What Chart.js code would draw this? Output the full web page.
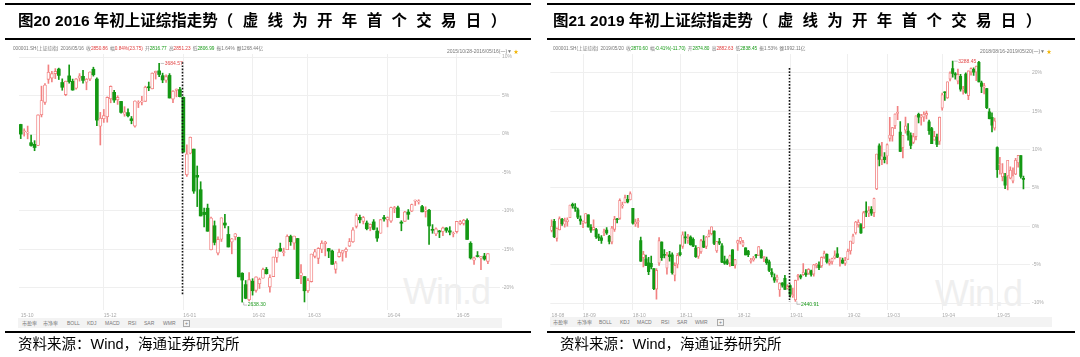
<!DOCTYPE html>
<html><head><meta charset="utf-8">
<script src="https://cdn.jsdelivr.net/npm/chart.js@4.4.0/dist/chart.umd.min.js"></script>
<style>
html,body{margin:0;padding:0;}
body{width:1080px;height:357px;background:#fff;position:relative;overflow:hidden;font-family:"Liberation Sans","Noto Sans CJK SC",sans-serif;}
.rule{position:absolute;background:#000;}
.title{position:absolute;font-weight:bold;font-size:15.5px;line-height:18px;white-space:nowrap;color:#000;font-family:"Liberation Sans","Noto Sans CJK SC",sans-serif;}
.title .p2{letter-spacing:9.3px;}
.src{position:absolute;font-size:14.5px;line-height:18px;white-space:nowrap;color:#000;font-family:"Noto Sans CJK SC",sans-serif;}
.src .w{font-family:"Liberation Sans",sans-serif;}
.hdr{position:absolute;font-size:4.7px;line-height:6px;white-space:nowrap;color:#777;display:flex;gap:2.2px;}
.hdr i{font-style:normal;}
.rng{position:absolute;font-size:5px;line-height:6px;white-space:nowrap;color:#777;}
.rng b{color:#f2b400;font-weight:normal;}
.r{color:#e03c3c}.g{color:#169a16}
.bar{position:absolute;height:10px;background:#f3f3f3;font-size:5px;line-height:10px;color:#777;white-space:nowrap;}
.bar span{position:absolute;top:0;}
.wm{position:absolute;font-size:36px;line-height:30px;color:#efefef;font-family:"Liberation Sans",sans-serif;letter-spacing:-1px;}
canvas{position:absolute;top:0;}
</style></head>
<body>
<div class="wm" style="left:403px;top:277px;">Win.d</div>
<div class="wm" style="left:935px;top:279px;">Win.d</div>
<div class="bar" style="left:18px;top:318px;width:484px;"><span style="left:4px">市盈率</span><span style="left:25px">市净率</span><span style="left:49px">BOLL</span><span style="left:69px">KDJ</span><span style="left:87px">MACD</span><span style="left:110px">RSI</span><span style="left:126px">SAR</span><span style="left:145px">WMR</span><span style="left:165px;top:2px;width:5px;height:5px;border:0.6px solid #aaa;line-height:5px;text-align:center;">+</span></div>
<div class="bar" style="left:550px;top:317px;width:502px;"><span style="left:3px">市盈率</span><span style="left:27px">市净率</span><span style="left:49px">BOLL</span><span style="left:70px">KDJ</span><span style="left:87px">MACD</span><span style="left:111px">RSI</span><span style="left:127px">SAR</span><span style="left:145px">WMR</span><span style="left:167px;top:2px;width:5px;height:5px;border:0.6px solid #aaa;line-height:5px;text-align:center;">+</span></div>
<canvas id="cL" width="540" height="357" style="left:0"></canvas>
<canvas id="cR" width="540" height="357" style="left:540px"></canvas>

<div class="rule" style="left:5px;top:3px;width:526px;height:2px;"></div>
<div class="rule" style="left:5px;top:38px;width:526px;height:1.5px;"></div>
<div class="rule" style="left:5px;top:331px;width:526px;height:2px;"></div>
<div class="rule" style="left:547px;top:3px;width:528px;height:2px;"></div>
<div class="rule" style="left:547px;top:38px;width:528px;height:1.5px;"></div>
<div class="rule" style="left:547px;top:331px;width:528px;height:2px;"></div>

<div class="title" style="left:18px;top:12px;">图20 2016 年初上证综指走势<span class="p2">（虚线为开年首个交易日）</span></div>
<div class="title" style="left:553px;top:12px;">图21 2019 年初上证综指走势<span class="p2">（虚线为开年首个交易日）</span></div>

<div class="hdr" style="left:13px;top:46px;"><span>000001.SH(上证综指)</span><span>2016/05/16</span><span>收<i class="r">2850.86</i></span><span>幅<i class="r">0.84%(23.75)</i></span><span>开<i class="g">2816.77</i></span><span>高<i class="r">2851.23</i></span><span>低<i class="g">2806.99</i></span><span>振1.64%</span><span>额1268.44亿</span></div>
<div class="hdr" style="left:553px;top:46px;"><span>000001.SH(上证综指)</span><span>2019/05/20</span><span>收<i class="g">2870.60</i></span><span>幅<i class="g">-0.41%(-11.70)</i></span><span>开<i class="g">2874.80</i></span><span>高<i class="r">2882.63</i></span><span>低<i class="g">2838.45</i></span><span>振1.53%</span><span>额1992.11亿</span></div>
<div class="rng" style="left:447px;top:48px;">2015/10/28-2016/05/16(一)▼ <b>★</b></div>
<div class="rng" style="left:980px;top:48px;">2018/08/16-2019/05/20(一)▼ <b>★</b></div>

<div class="src" style="left:18px;top:334px;">资料来源：<span class="w">Wind</span>，海通证券研究所</div>
<div class="src" style="left:560px;top:334px;">资料来源：<span class="w">Wind</span>，海通证券研究所</div>

<script>
// ================= 2016 chart data (SSE Composite, daily OHLC) =================
const L_months = ['15-10','15-11','15-12','16-01','16-02','16-03','16-04','16-05'];
const L_days = [
 [28,29,30],
 [2,3,4,5,6,9,10,11,12,13,16,17,18,19,20,23,24,25,26,27,30],
 [1,2,3,4,7,8,9,10,11,14,15,16,17,18,21,22,23,24,25,28,29,30,31],
 [4,5,6,7,8,11,12,13,14,15,18,19,20,21,22,25,26,27,28,29],
 [1,2,3,4,5,15,16,17,18,19,22,23,24,25,26,29],
 [1,2,3,4,7,8,9,10,11,14,15,16,17,18,21,22,23,24,25,28,29,30,31],
 [1,5,6,7,8,11,12,13,14,15,18,19,20,21,22,25,26,27,28,29],
 [3,4,5,6,9,10,11,12,13,16]
];
const L_tickMonths = ['15-10','15-12','16-01','16-02','16-03','16-04','16-05'];
const L_open = [
 3417,3385,3379,
 3337,3330,3325,3459,3514,3615,3620,3640,3660,3601,3548,3630,3606,3576,3620,3628,3602,3616,3659,3616,3409,
 3442,3450,3529,3558,3525,3518,3462,3469,3442,3410,3510,3515,3518,3579,3573,3643,3652,3631,3611,3632,3528,3566,3570,
 3536,3196,3291,3309,3194,3131,3032,3050,2868,2973,2853,2914,2985,2935,2902,2925,2922,2765,2715,2648,
 2730,2690,2719,2743,2782,2705,2750,2834,2873,2855,2868,2926,2897,2917,2755,2750,
 2688,2728,2839,2830,2870,2895,2873,2862,2782,2838,2853,2860,2884,2903,2970,3010,2992,2985,2966,2990,2950,2940,3009,
 2999,2993,3048,3052,2989,2992,3033,3037,3081,3078,3057,3036,3041,2955,2937,2948,2948,2963,2951,2937,
 2947,2982,2983,2996,2896,2822,2840,2832,2840,2817
];
const L_high = [
 3418,3398,3410,
 3371,3346,3459,3585,3596,3678,3650,3662,3664,3617,3607,3678,3616,3618,3640,3654,3618,3648,3668,3621,3470,
 3483,3538,3586,3567,3543,3518,3495,3486,3452,3521,3521,3540,3585,3603,3643,3651,3684.57,3642,3635,3640,3566,3573,3580,
 3538,3328,3362,3309,3235,3166,3050,3068,3011,2994,2924,3008,3023,2970,2917,2939,2923,2767,2733,2768,
 2741,2749,2744,2788,2790,2758,2836,2868,2897,2875,2933,2932,2928,2918,2803,2751,
 2741,2849,2870,2877,2907,2905,2874,2866,2817,2871,2864,2876,2917,2965,3026,3020,3014,2994,2981,3000,2964,3001,3019,
 3012,3055,3058,3059,2995,3036,3044,3068,3086,3087,3063,3056,3045,2978,2964,2953,2967,2965,2969,2946,
 2992,2996,3001,3003,2903,2836,2860,2839,2852,2851
];
const L_low = [
 3355,3366,3354,
 3322,3302,3324,3450,3505,3597,3604,3618,3614,3567,3543,3598,3567,3572,3607,3598,3569,3609,3629,3412,3327,
 3426,3427,3512,3514,3505,3466,3453,3450,3420,3405,3491,3503,3518,3565,3573,3616,3627,3600,3601,3533,3513,3538,3538,
 3295,3189,3288,3115,3057,3016,2968,2949,2867,2889,2845,2904,2963,2880,2850,2911,2749,2638.30,2653,2644,
 2669,2682,2698,2743,2761,2682,2750,2813,2861,2841,2868,2887,2869,2741,2719,2638.96,
 2681,2726,2832,2807,2855,2841,2833,2804,2765,2835,2818,2834,2882,2900,2963,2985,2981,2955,2951,2955,2904,2940,2993,
 2968,2988,3030,3008,2951,2992,3001,3035,3062,3068,3034,3011,2891,2940,2930,2921,2929,2944,2933,2924,
 2941,2977,2976,2913,2827,2803,2836,2781,2822,2807
];
const L_close = [
 3375,3387,3382,
 3325,3316,3459,3522,3590,3646,3640,3650,3632,3580,3607,3605,3568,3617,3630,3610,3616,3647,3635,3436,3445,
 3456,3536,3584,3524,3536,3470,3472,3455,3434,3520,3510,3516,3580,3578,3642,3651,3636,3612,3627,3533,3563,3572,3539,
 3296,3288,3361,3125,3186,3016,3022,2949,3007,2900,2913,3008,2976,2880,2916,2938,2749,2735,2655,2737,
 2688,2749,2739,2781,2763,2746,2836,2867,2862,2860,2927,2903,2928,2741,2767,2688,
 2733,2849,2859,2874,2897,2901,2862,2804,2810,2857,2864,2870,2904,2955,3018,2999,3009,2960,2979,2957,2919,3000,3003,
 3009,3053,3050,3009,2984,3034,3023,3066,3082,3078,3034,3042,2972,2953,2959,2946,2964,2953,2945,2938,
 2992,2991,2997,2913,2832,2832,2838,2835,2827,2851
];
const L_pctTicks = [-20,-15,-10,-5,0,5,10];
const L_base = 3375.2;          // close of first day = 0%
const L_yRange = [2603.7, 3725.9];
const L_dashRange = [2669, 3690];
const L_firstDayOfYear = '16-01';
const L_padCats = 3;

// ================= 2019 chart data =================
const R_months = ['18-08','18-09','18-10','18-11','18-12','19-01','19-02','19-03','19-04','19-05'];
const R_days = [
 [16,17,20,21,22,23,24,27,28,29,30,31],
 [3,4,5,6,7,10,11,12,13,14,17,18,19,20,21,25,26,27,28],
 [8,9,10,11,12,15,16,17,18,19,22,23,24,25,26,29,30,31],
 [1,2,5,6,7,8,9,12,13,14,15,16,19,20,21,22,23,26,27,28,29,30],
 [3,4,5,6,7,10,11,12,13,14,17,18,19,20,21,24,25,26,27,28],
 [2,3,4,7,8,9,10,11,14,15,16,17,18,21,22,23,24,25,28,29,30,31],
 [1,11,12,13,14,15,18,19,20,21,22,25,26,27,28],
 [1,4,5,6,7,8,11,12,13,14,15,18,19,20,21,22,25,26,27,28,29],
 [1,2,3,4,8,9,10,11,12,15,16,17,18,19,22,23,24,25,26,29,30],
 [6,7,8,9,10,13,14,15,16,17,20]
];
const R_tickMonths = ['18-08','18-09','18-10','18-11','18-12','19-01','19-02','19-03','19-04','19-05'];
const R_open = [
 2691,2723,2663,2693,2730,2713,2722,2736,2783,2774,2764,2731,
 2716,2718,2746,2702,2694,2694,2668,2665,2683,2692,2670,2650,2695,2732,2734,2778,2789,2801,2799,
 2769,2714,2721,2655,2595,2591,2577,2575,2557,2484,2576,2650,2607,2558,2605,2605,2533,2572,
 2613,2635,2666,2657,2668,2660,2629,2600,2616,2654,2635,2670,2680,2689,2619,2652,2637,2581,2585,2576,2623,2569,
 2646,2652,2639,2630,2618,2582,2587,2604,2603,2620,2596,2590,2580,2544,2525,2517,2482,2505,2522,2487,
 2497,2461,2446,2528,2531,2535,2541,2540,2549,2537,2568,2569,2566,2597,2607,2575,2580,2594,2609,2593,2587,2575,
 2589,2619,2646,2683,2711,2711,2701,2758,2752,2766,2754,2838,2990,2940,2950,
 2954,3016,3025,3060,3104,3038,2984,3045,3042,3026,3002,3022,3101,3091,3091,3098,3074,3051,3010,3021,3006,
 3123,3178,3159,3225,3262,3243,3218,3235,3186,3243,3167,3250,3260,3250,3284,3212,3197,3192,3110,3090,3052,
 2984,2923,2880,2881,2884,2876,2865,2890,2930,2955,2875
];
const R_high = [
 2729,2730,2700,2739,2734,2735,2736,2781,2788,2786,2770,2743,
 2725,2751,2746,2712,2729,2699,2678,2673,2696,2701,2674,2706,2741,2734,2803,2791,2816,2815,2827,
 2769,2731,2734,2668,2617,2604,2596,2601,2557,2557,2666,2651,2624,2614,2617,2612,2577,2610,
 2640,2686,2686,2677,2672,2665,2638,2631,2660,2673,2670,2692,2704,2690,2653,2663,2645,2601,2590,2604,2624,2589,
 2657,2667,2656,2630,2621,2593,2600,2607,2634,2624,2600,2597,2587,2557,2538,2534,2506,2507,2533,2500,
 2500,2488,2516,2536,2535,2574,2553,2557,2551,2572,2575,2580,2598,2618,2609,2590,2594,2619,2631,2595,2594,2596,
 2625,2654,2678,2723,2729,2715,2759,2792,2775,2775,2805,2961,2997,3002,2966,
 2997,3090,3055,3103,3129,3075,3027,3091,3068,3036,3034,3096,3105,3101,3110,3112,3081,3055,3041,3031,3091,
 3176,3180,3216,3251,3288.45,3248,3261,3242,3200,3247,3254,3265,3265,3271,3288,3218,3210,3193,3121,3106,3088,
 2986,2949,2927,2893,2939,2916,2912,2946,2956,2955,2883
];
const R_low = [
 2686,2666,2653,2693,2709,2703,2706,2736,2770,2758,2733,2712,
 2701,2717,2703,2684,2692,2663,2655,2645,2673,2677,2644,2644,2688,2718,2730,2770,2788,2788,2799,
 2713,2705,2702,2582,2562,2567,2535,2555,2482,2449,2568,2585,2594,2537,2583,2537,2513,2559,
 2601,2628,2645,2645,2639,2634,2596,2592,2610,2630,2627,2668,2675,2641,2614,2641,2577,2571,2570,2564,2567,2558,
 2621,2644,2634,2605,2599,2576,2583,2594,2603,2593,2581,2571,2546,2527,2508,2509,2458,2491,2482,2484,
 2456,2455,2440.91,2516,2520,2532,2529,2536,2530,2530,2559,2553,2561,2592,2576,2569,2572,2591,2595,2565,2575,2568,
 2589,2607,2645,2678,2703,2681,2699,2740,2740,2744,2740,2835,2919,2923,2929,
 2926,3006,3006,3050,3082,2969,2947,3034,3010,2980,2997,3011,3071,3063,3076,3085,3030,2997,3010,2987,2995,
 3116,3150,3157,3219,3232,3225,3208,3183,3172,3175,3153,3239,3238,3220,3215,3177,3173,3121,3085,3039,3045,
 2878,2890,2866,2839,2834,2873,2859,2888,2914,2876,2838
];
const R_close = [
 2706,2669,2698,2733,2715,2725,2729,2781,2778,2769,2738,2725,
 2721,2751,2704,2692,2702,2669,2665,2656,2687,2682,2652,2700,2731,2729,2797,2781,2807,2792,2821,
 2717,2721,2726,2583,2607,2568,2546,2562,2486,2550,2655,2595,2603,2604,2599,2542,2568,2603,
 2606,2676,2665,2659,2641,2636,2599,2631,2655,2632,2668,2679,2704,2645,2652,2646,2579,2576,2575,2602,2567,2588,
 2655,2666,2650,2605,2606,2585,2594,2602,2634,2594,2598,2577,2550,2536,2516,2527,2505,2498,2483,2494,
 2465,2464,2515,2533,2526,2544,2535,2554,2536,2570,2570,2560,2596,2611,2580,2581,2592,2602,2597,2594,2576,2585,
 2618,2654,2672,2721,2720,2682,2754,2756,2761,2752,2804,2961,2942,2954,2941,
 2994,3028,3054,3102,3106,2970,3027,3060,3027,2991,3022,3096,3091,3091,3101,3104,3043,2997,3023,2995,3091,
 3170,3177,3216,3247,3245,3240,3242,3190,3189,3178,3254,3263,3250,3271,3215,3199,3202,3124,3086,3063,3078,
 2906,2926,2894,2851,2939,2904,2884,2939,2956,2882,2871
];
const R_pctTicks = [-10,-5,0,5,10,15,20];
const R_base = 2705.66;
const R_yRange = [2410.4, 3313.8];
const R_dashRange = [2439, 3264];
const R_firstDayOfYear = '19-01';
const R_padCats = 2;

// ================= rendering =================
const UP = 'rgb(242,130,130)';
const DOWN = 'rgb(20,152,20)';
const GRID = '#efefef';
const FONT = '"Liberation Sans","Noto Sans CJK SC",sans-serif';

function dates(months, days){
  const out = [];
  months.forEach((m,i)=>days[i].forEach(d=>out.push('20'+m.replace('-','/')+'/'+String(d).padStart(2,'0'))));
  return out;
}
function monthStart(months, days, m){
  let idx = 0;
  for (let i=0;i<months.length;i++){ if (months[i]===m) return idx; idx += days[i].length; }
  return -1;
}

const decor = {
  id:'decor',
  afterDatasetsDraw(chart, args, o){
    const {ctx, scales:{x,y}} = chart;
    ctx.save();
    const dx = Math.round(x.getPixelForValue(o.dashIdx)) - 0.5;
    ctx.strokeStyle = '#111'; ctx.lineWidth = 1.6; ctx.setLineDash([1.6,1.6]);
    ctx.beginPath(); ctx.moveTo(dx, y.getPixelForValue(o.dashRange[1])); ctx.lineTo(dx, y.getPixelForValue(o.dashRange[0])); ctx.stroke();
    ctx.setLineDash([]);
    let hi = 0, lo = 0;
    o.high.forEach((v,i)=>{ if (v > o.high[hi]) hi = i; });
    o.low.forEach((v,i)=>{ if (v < o.low[lo]) lo = i; });
    ctx.font = '5px ' + FONT; ctx.textBaseline = 'middle';
    const lab = (i, v, col, dy) => {
      const px = x.getPixelForValue(i), py = y.getPixelForValue(v) + dy;
      ctx.strokeStyle = '#9a9a9a'; ctx.lineWidth = 0.6;
      ctx.beginPath(); ctx.moveTo(px+1.5, py - dy); ctx.lineTo(px+1.5, py); ctx.lineTo(px+5, py); ctx.stroke();
      ctx.fillStyle = col; ctx.fillText(v.toFixed(2), px+5.5, py);
    };
    lab(hi, o.high[hi], '#e24848', 0);
    lab(lo, o.low[lo], '#1d9a1d', 3);
    ctx.restore();
  }
};

function makeChart(id, d){
  const cats = dates(d.months, d.days);
  const labels = cats.concat(Array(d.pad).fill(''));
  const up = i => d.close[i] >= d.open[i];
  const tickIdx = d.tickMonths.map(m => monthStart(d.months, d.days, m));
  const tickLab = d.tickMonths;
  const bodies = d.open.map((o,i)=>[o, d.close[i]]);
  const wicks = d.low.map((l,i)=>[l, d.high[i]]);
  return new Chart(document.getElementById(id), {
    type:'bar',
    data:{ labels, datasets:[
      { label:'body', data:bodies, order:1, grouped:false, barThickness:d.bodyW, minBarLength:1,
        backgroundColor: c => up(c.dataIndex) ? '#ffffff' : DOWN,
        borderColor: c => up(c.dataIndex) ? UP : DOWN,
        borderWidth: c => up(c.dataIndex) ? 0.9 : 0, borderSkipped:false },
      { label:'wick', data:wicks, order:2, grouped:false, barThickness:1,
        backgroundColor: c => up(c.dataIndex) ? UP : DOWN, borderWidth:0 }
    ]},
    options:{
      responsive:false, animation:false, devicePixelRatio:1,
      layout:{ padding: d.padding },
      plugins:{ legend:{display:false}, tooltip:{enabled:false},
        decor:{ dashIdx: monthStart(d.months, d.days, d.firstDay), dashRange:d.dashRange, high:d.high, low:d.low } },
      scales:{
        x:{ type:'category', offset:true,
          grid:{ offset:false, drawTicks:false, color: c => c.index===0 ? 'rgba(0,0,0,0)' : GRID, lineWidth:1 },
          border:{display:false},
          afterBuildTicks: s => { s.ticks = tickIdx.map(v => ({value:v})); },
          ticks:{ autoSkip:false, maxRotation:0, minRotation:0, align:'start', padding:3,
            callback:(v,i)=>tickLab[i], color:'#aaa', font:{size:5, family:FONT} },
          afterFit: s => { s.height = 12; }
        },
        y:{ position:'right', min:d.yRange[0], max:d.yRange[1],
          grid:{ drawTicks:false, color:GRID, lineWidth:1 }, border:{display:false},
          afterBuildTicks: s => { s.ticks = d.pct.map(p => ({value: d.base*(1+p/100)})); },
          ticks:{ padding:2, callback:(v,i)=>d.pct[i]+'%', color:'#aaa', font:{size:5, family:FONT} },
          afterFit: s => { s.width = 30; }
        }
      }
    },
    plugins:[decor]
  });
}

makeChart('cL', { months:L_months, days:L_days, tickMonths:L_tickMonths, open:L_open, high:L_high, low:L_low, close:L_close,
  pct:L_pctTicks, base:L_base, yRange:L_yRange, dashRange:L_dashRange, firstDay:L_firstDayOfYear, pad:L_padCats,
  bodyW:3, padding:{left:19, right:10, top:54, bottom:35} });
makeChart('cR', { months:R_months, days:R_days, tickMonths:R_tickMonths, open:R_open, high:R_high, low:R_low, close:R_close,
  pct:R_pctTicks, base:R_base, yRange:R_yRange, dashRange:R_dashRange, firstDay:R_firstDayOfYear, pad:R_padCats,
  bodyW:2.4, padding:{left:10.3, right:20, top:54, bottom:35} });
</script>
</body></html>
